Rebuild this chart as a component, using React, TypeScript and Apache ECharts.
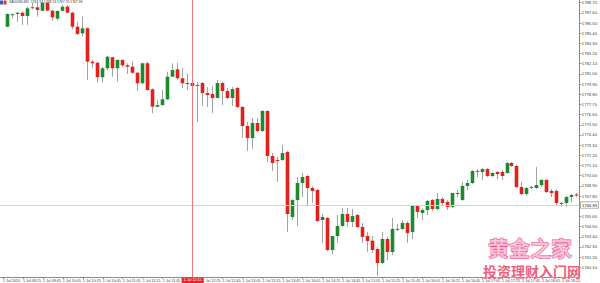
import React, { useEffect, useRef } from "react";
import * as echarts from "echarts";

// ---- data ----
const titleText = "XAUUSD,M5  1767.97 1768.13 1767.70 1767.96";

// tick labels on the time axis: one every 4 bars (20 minutes)
const xTickLabels = [
  "1 Jul 2020", "1 Jul 09:25", "1 Jul 09:45", "1 Jul 10:05", "1 Jul 10:25", "1 Jul 10:45",
  "1 Jul 11:05", "1 Jul 11:25", "1 Jul 11:45", "", "1 Jul 12:25", "1 Jul 12:45",
  "1 Jul 13:05", "1 Jul 13:25", "1 Jul 13:45", "1 Jul 14:05", "1 Jul 14:25", "1 Jul 14:45",
  "1 Jul 15:05", "1 Jul 15:25", "1 Jul 15:45", "1 Jul 16:05", "1 Jul 16:25", "1 Jul 16:45",
  "1 Jul 17:05", "1 Jul 17:25", "1 Jul 17:45", "1 Jul 18:05", "1 Jul 18:25",
];

// price scale labels
const yTickValues = [
  1760.1, 1761.2, 1762.3, 1763.4, 1764.5, 1765.6, 1767.8, 1768.9, 1770.0, 1771.1,
  1772.2, 1773.3, 1774.4, 1775.5, 1776.6, 1777.7, 1778.8, 1779.9, 1781.0, 1782.1,
  1783.2, 1784.3, 1785.4, 1786.5, 1787.6, 1788.7,
];

// [open, close, low, high] for each 5-minute bar
const ohlc: number[][] = [
  [1786.10, 1787.48, 1786.04, 1787.55],
  [1787.44, 1787.45, 1787.01, 1787.55],
  [1787.48, 1787.62, 1786.64, 1787.73],
  [1787.62, 1787.26, 1786.29, 1787.73],
  [1787.26, 1788.09, 1786.29, 1788.27],
  [1788.20, 1788.18, 1787.98, 1788.70],
  [1788.20, 1787.91, 1787.19, 1788.81],
  [1787.83, 1788.70, 1787.80, 1788.81],
  [1788.68, 1787.85, 1787.80, 1788.80],
  [1787.83, 1787.12, 1786.75, 1787.98],
  [1786.97, 1787.80, 1786.83, 1787.91],
  [1787.83, 1788.27, 1787.73, 1788.45],
  [1788.27, 1787.62, 1787.55, 1788.45],
  [1787.62, 1786.10, 1785.82, 1787.73],
  [1786.10, 1785.32, 1785.21, 1786.64],
  [1785.39, 1785.93, 1785.02, 1787.19],
  [1785.93, 1782.32, 1780.34, 1786.04],
  [1782.32, 1782.15, 1781.61, 1782.51],
  [1782.21, 1780.64, 1780.05, 1782.32],
  [1780.64, 1781.61, 1780.05, 1781.78],
  [1781.61, 1782.86, 1781.42, 1782.94],
  [1782.80, 1781.61, 1780.70, 1782.86],
  [1781.61, 1782.51, 1780.16, 1782.58],
  [1782.51, 1781.93, 1781.78, 1782.58],
  [1781.93, 1781.78, 1780.99, 1782.15],
  [1781.78, 1781.13, 1780.99, 1782.32],
  [1781.13, 1779.99, 1779.19, 1781.24],
  [1779.99, 1782.15, 1779.91, 1782.21],
  [1782.15, 1779.26, 1779.19, 1782.32],
  [1779.34, 1777.46, 1776.74, 1779.45],
  [1777.46, 1777.64, 1777.39, 1778.18],
  [1777.64, 1778.26, 1777.53, 1779.26],
  [1778.26, 1780.70, 1778.18, 1781.24],
  [1780.70, 1781.42, 1780.64, 1782.15],
  [1781.50, 1780.53, 1780.34, 1782.21],
  [1780.53, 1779.99, 1779.48, 1781.64],
  [1780.02, 1780.00, 1779.26, 1781.05],
  [1780.02, 1779.70, 1779.59, 1780.13],
  [1779.80, 1779.81, 1775.80, 1780.13],
  [1780.02, 1778.94, 1777.53, 1780.13],
  [1778.94, 1778.72, 1777.43, 1779.59],
  [1778.83, 1778.40, 1776.78, 1779.70],
  [1778.40, 1780.02, 1778.35, 1780.34],
  [1780.02, 1779.15, 1777.64, 1780.13],
  [1779.15, 1778.40, 1778.29, 1779.48],
  [1778.40, 1779.37, 1777.53, 1779.59],
  [1779.48, 1777.43, 1777.32, 1779.59],
  [1777.43, 1775.37, 1774.07, 1777.53],
  [1775.37, 1774.07, 1772.67, 1775.80],
  [1774.07, 1775.70, 1772.89, 1776.24],
  [1775.70, 1774.83, 1774.72, 1776.24],
  [1774.83, 1776.99, 1774.72, 1777.10],
  [1776.99, 1772.13, 1771.48, 1777.10],
  [1772.13, 1771.37, 1770.51, 1772.45],
  [1771.70, 1771.68, 1769.32, 1772.02],
  [1771.70, 1772.45, 1771.59, 1773.32],
  [1772.56, 1765.86, 1763.92, 1772.67],
  [1765.54, 1767.37, 1765.21, 1767.48],
  [1767.37, 1769.21, 1764.56, 1769.86],
  [1769.21, 1769.86, 1767.70, 1770.29],
  [1769.97, 1768.67, 1766.83, 1770.08],
  [1768.67, 1768.35, 1767.05, 1768.89],
  [1768.45, 1765.10, 1765.00, 1768.56],
  [1765.21, 1765.54, 1762.73, 1765.86],
  [1765.43, 1761.97, 1761.86, 1765.54],
  [1761.97, 1763.48, 1761.54, 1763.50],
  [1763.48, 1764.56, 1762.73, 1765.75],
  [1764.56, 1765.86, 1764.46, 1766.51],
  [1765.86, 1765.00, 1764.46, 1766.51],
  [1765.00, 1765.64, 1764.46, 1766.40],
  [1765.75, 1764.46, 1764.35, 1765.86],
  [1764.46, 1763.38, 1762.73, 1764.89],
  [1763.48, 1762.94, 1761.75, 1763.92],
  [1762.98, 1761.97, 1761.65, 1763.48],
  [1762.08, 1760.56, 1759.16, 1762.29],
  [1760.56, 1763.16, 1760.46, 1763.92],
  [1763.16, 1761.75, 1760.89, 1763.38],
  [1761.75, 1764.24, 1761.43, 1765.43],
  [1764.24, 1764.25, 1764.02, 1764.78],
  [1764.24, 1764.89, 1764.13, 1765.21],
  [1764.89, 1763.81, 1762.73, 1765.10],
  [1763.92, 1766.83, 1763.16, 1766.85],
  [1766.73, 1766.08, 1765.43, 1766.83],
  [1765.97, 1766.29, 1765.21, 1766.40],
  [1766.29, 1767.27, 1765.75, 1767.37],
  [1767.37, 1766.40, 1766.18, 1767.48],
  [1766.40, 1767.48, 1766.29, 1768.13],
  [1767.48, 1767.05, 1766.83, 1767.70],
  [1767.16, 1766.62, 1766.29, 1767.37],
  [1766.62, 1768.13, 1766.51, 1768.15],
  [1768.13, 1768.02, 1767.70, 1768.45],
  [1767.37, 1768.89, 1767.27, 1769.32],
  [1768.89, 1769.21, 1768.45, 1769.54],
  [1769.21, 1770.51, 1769.10, 1770.62],
  [1770.51, 1770.52, 1769.86, 1770.72],
  [1770.40, 1770.72, 1769.54, 1770.83],
  [1770.72, 1769.97, 1769.86, 1770.83],
  [1769.97, 1770.29, 1769.86, 1770.40],
  [1770.40, 1770.18, 1769.64, 1770.51],
  [1770.40, 1769.97, 1769.54, 1770.62],
  [1770.29, 1771.37, 1770.18, 1771.48],
  [1771.37, 1771.05, 1770.94, 1771.48],
  [1771.05, 1768.78, 1768.67, 1771.16],
  [1768.78, 1768.02, 1767.91, 1769.32],
  [1768.02, 1768.67, 1767.81, 1768.78],
  [1768.78, 1768.79, 1768.56, 1768.89],
  [1768.67, 1768.99, 1768.56, 1770.94],
  [1768.99, 1769.54, 1768.78, 1769.64],
  [1769.54, 1768.24, 1768.13, 1769.64],
  [1768.35, 1768.13, 1767.70, 1768.56],
  [1768.35, 1767.05, 1766.83, 1768.56],
  [1767.05, 1766.94, 1766.62, 1767.16],
  [1767.05, 1767.70, 1766.62, 1767.81],
  [1767.70, 1767.91, 1767.16, 1768.02],
  [1767.97, 1767.96, 1767.70, 1768.13],
];

const crossPrice = 1766.83;
const crossIndex = 38;
const crossTimeLabel = "1 Jul 12:15";
const priceMin = 1759.05;
const priceMax = 1788.99;

const GREEN = "#1e8a2f";
const RED = "#e2201c";
const WICK = "#a2a2a2";

export default function App() {
  const ref = useRef<HTMLDivElement>(null);

  useEffect(() => {
    const el = ref.current;
    if (!el) return;
    const chart = echarts.init(el, null, { renderer: "svg" });

    const slots = ohlc.length + 1; // slot 0 is the partly hidden bar at the left edge
    const categories = Array.from({ length: slots }, (_, i) => String(i));
    const seriesData = ohlc.map((d, i) => [i + 1, d[0], d[1], d[2], d[3]]);

    const renderItem = (params: any, api: any) => {
      const idx = api.value(0);
      const o = api.value(1);
      const c = api.value(2);
      const l = api.value(3);
      const h = api.value(4);
      const pO = api.coord([idx, o]);
      const pC = api.coord([idx, c]);
      const pL = api.coord([idx, l]);
      const pH = api.coord([idx, h]);
      const cx = Math.floor(pO[0]) + 0.5;
      const bw = 3.6;
      const top = Math.min(pO[1], pC[1]);
      let hgt = Math.abs(pO[1] - pC[1]);
      if (hgt < 1) hgt = 1;
      const up = c >= o;
      return {
        type: "group",
        children: [
          {
            type: "line",
            shape: { x1: cx, y1: pH[1], x2: cx, y2: pL[1] },
            style: { stroke: WICK, lineWidth: 1 },
          },
          {
            type: "rect",
            shape: { x: cx - bw / 2, y: top, width: bw, height: hgt },
            style: { fill: up ? GREEN : RED },
          },
        ],
      };
    };

    const option: any = {
      animation: false,
      backgroundColor: "#ffffff",
      textStyle: { fontFamily: "Liberation Sans, Arial, sans-serif" },
      grid: { left: -2.5, right: 14, top: 0, bottom: 6, containLabel: false },
      xAxis: {
        type: "category",
        data: categories,
        boundaryGap: true,
        axisLine: { show: true, lineStyle: { color: "#8a8a8a", width: 1 } },
        axisTick: { show: true, interval: 3, alignWithLabel: true, length: 2, lineStyle: { color: "#8a8a8a" } },
        axisLabel: {
          show: true,
          interval: 3,
          align: "left",
          margin: 1.5,
          fontSize: 3.7,
          color: "#444",
          formatter: (_v: string, i: number) => xTickLabels[i / 4] ?? "",
        },
        splitLine: { show: false },
      },
      yAxis: {
        type: "value",
        position: "right",
        min: priceMin,
        max: priceMax,
        axisLine: { show: true, lineStyle: { color: "#8a8a8a", width: 1 } },
        axisTick: { show: true, length: 2, customValues: yTickValues, lineStyle: { color: "#8a8a8a" } },
        axisLabel: {
          show: true,
          customValues: yTickValues,
          margin: 2.5,
          fontSize: 4.2,
          color: "#444",
          formatter: (v: number) => v.toFixed(2),
        },
        splitLine: { show: false },
      },
      series: [
        {
          type: "custom",
          renderItem,
          data: seriesData,
          encode: { x: 0, y: [1, 2, 3, 4] },
          clip: false,
          z: 3,
        },
        {
          type: "line",
          data: [],
          silent: true,
          z: 2,
          markLine: {
            silent: true,
            symbol: "none",
            animation: false,
            data: [
              {
                yAxis: crossPrice,
                lineStyle: { color: "#d4d4d4", width: 1, type: "solid" },
                label: {
                  show: true,
                  position: "end",
                  distance: 1.5,
                  formatter: crossPrice.toFixed(2),
                  fontSize: 4.2,
                  color: "#222",
                  backgroundColor: "#ffffff",
                  borderColor: "#888",
                  borderWidth: 0.6,
                  padding: [0.8, 1.2],
                },
              },
              {
                xAxis: String(crossIndex),
                lineStyle: { color: "#f07878", width: 1, type: "solid" },
                label: {
                  show: true,
                  position: "start",
                  distance: 0.5,
                  formatter: crossTimeLabel,
                  fontSize: 3.7,
                  color: "#ffffff",
                  backgroundColor: "#e8242a",
                  padding: [0.8, 2],
                },
              },
            ],
          },
        },
      ],
      graphic: [
        { type: "rect", shape: { x: 0, y: 0.5, width: 3, height: 4 }, style: { fill: "#3b5bc4" }, z: 10 },
        { type: "rect", shape: { x: 3.5, y: 0.5, width: 3, height: 4 }, style: { fill: "#d83a3a" }, z: 10 },
        {
          type: "text",
          x: 9,
          y: 0.5,
          z: 10,
          style: { text: titleText, fontSize: 3.4, fill: "#333", fontFamily: "Liberation Sans, Arial, sans-serif" },
        },
        {
          type: "text",
          x: 488,
          y: 236,
          z: 20,
          style: {
            text: "黄金之家",
            fontSize: 21,
            lineHeight: 22,
            fontWeight: "bold",
            fontFamily: "Noto Sans CJK SC",
            fill: "rgba(250,190,212,0.85)",
            stroke: "#e6508c",
            lineWidth: 0.9,
          },
        },
        {
          type: "text",
          x: 483,
          y: 263,
          z: 20,
          style: {
            text: "投资理财入门网",
            fontSize: 14,
            lineHeight: 15,
            fontWeight: "bold",
            fontFamily: "Noto Sans CJK SC",
            fill: "#ef5f7e",
            stroke: "#ffffff",
            lineWidth: 0.4,
          },
        },
      ],
    };

    chart.setOption(option);
    return () => chart.dispose();
  }, []);

  return (
    <div
      ref={ref}
      style={{ position: "absolute", left: 0, top: 0, width: 600, height: 283, background: "#fff" }}
    />
  );
}
